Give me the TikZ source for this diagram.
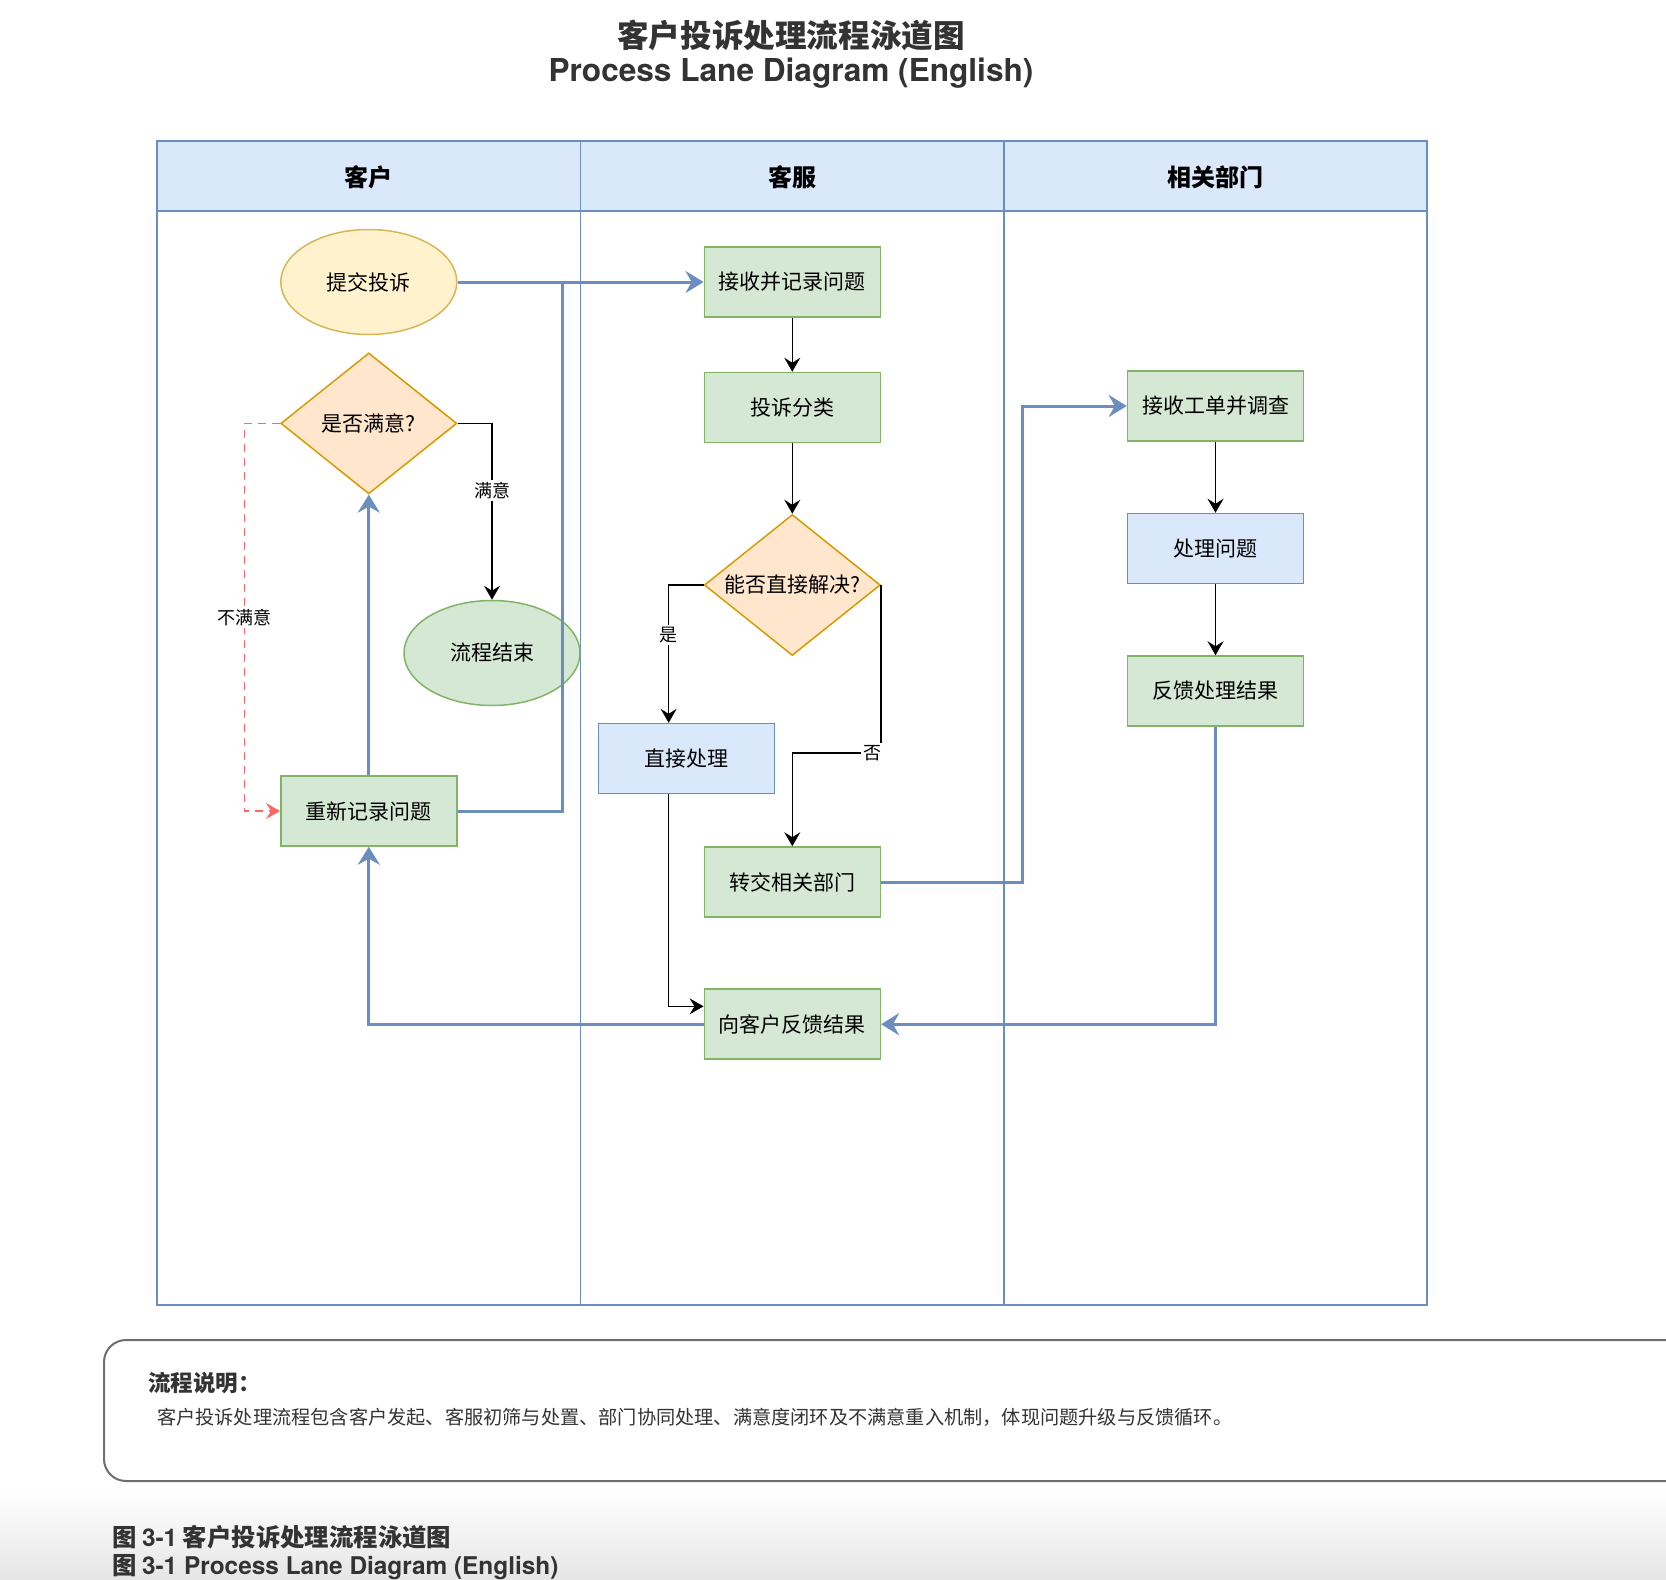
\documentclass[tikz,border=0pt]{standalone}
\usepackage{fontspec}
\setmainfont{Noto Sans CJK SC}
\newfontfamily\latinfont{TeX Gyre Heros}
\usepackage{xcolor}
\usepackage{tikz}
\usetikzlibrary{shapes.geometric,arrows.meta,positioning,calc}
\definecolor{LaneLine}{RGB}{108,142,191}
\definecolor{LaneFill}{RGB}{218,232,252}
\definecolor{GreenLine}{RGB}{130,179,102}
\definecolor{GreenFill}{RGB}{213,232,212}
\definecolor{YellowLine}{RGB}{214,182,86}
\definecolor{YellowFill}{RGB}{255,242,204}
\definecolor{OrangeLine}{RGB}{215,155,0}
\definecolor{OrangeFill}{RGB}{255,230,204}
\definecolor{RedDash}{RGB}{255,102,102}
\definecolor{TextDark}{RGB}{51,51,51}
\definecolor{BoxLine}{RGB}{110,110,110}

\begin{document}
\begin{tikzpicture}[x=0.5pt,y=-0.5pt,
  proc/.style={rectangle,draw=GreenLine,fill=GreenFill,line width=0.75pt,
    minimum width=88pt,minimum height=35pt,font=\fontsize{10.5pt}{12pt}\selectfont},
  act/.style={proc,draw=LaneLine,fill=LaneFill},
  term/.style={ellipse,draw=YellowLine,fill=YellowFill,line width=0.75pt,
    minimum width=88pt,minimum height=52.5pt,font=\fontsize{10.5pt}{12pt}\selectfont},
  dec/.style={diamond,aspect=1.25,draw=OrangeLine,fill=OrangeFill,line width=0.75pt,inner sep=0pt,
    minimum width=88pt,minimum height=70.5pt,font=\fontsize{10.5pt}{12pt}\selectfont},
  lanehead/.style={font=\fontsize{12pt}{14pt}\selectfont\bfseries},
  flow/.style={-{Stealth[length=7pt,width=8pt,inset=2.5pt]},line width=0.75pt},
  link/.style={-{Stealth[length=9pt,width=11pt,inset=3pt]},line width=1.5pt,draw=LaneLine},
  back/.style={-{Stealth[length=7pt,width=8pt,inset=2.5pt]},dash pattern=on 4pt off 3pt,
    draw=RedDash,line width=0.75pt},
  lbl/.style={fill=white,inner sep=1pt,font=\fontsize{9pt}{10pt}\selectfont}
]
\useasboundingbox (0,0) rectangle (1666,1580);
\clip (0,0) rectangle (1666,1580);
\shade[top color=white,bottom color=black!10] (0,1490) rectangle (1666,1580);

\node[font=\fontsize{15.8pt}{18pt}\selectfont\bfseries,text=TextDark] (title) at (791,35) {客户投诉处理流程泳道图};
\node[font=\latinfont\bfseries\fontsize{15.8pt}{18pt}\selectfont,text=TextDark] (subtitle) at (791,73) {Process Lane Diagram (English)};

\fill[LaneFill] (157,141) rectangle (1427,211);
\draw[LaneLine,line width=0.75pt] (157,141) rectangle (1427,1305);
\draw[LaneLine,line width=1pt] (157,211) -- (1427,211);
\draw[LaneLine,line width=0.75pt] (580.6,141) -- (580.6,1305) (1004,141) -- (1004,1305);
\node[lanehead] (laneA) at (368.8,177) {客户};
\node[lanehead] (laneB) at (792.3,177) {客服};
\node[lanehead] (laneC) at (1215.5,177) {相关部门};

\node[term] (submit) at (368.8,282) {提交投诉};
\node[dec] (sat) at (368.8,423.4) {是否满意?};
\node[term,draw=GreenLine,fill=GreenFill] (finish) at (492,653) {流程结束};
\node[proc] (redo) at (368.8,811) {重新记录问题};

\node[proc] (recv) at (792.3,282) {接收并记录问题};
\node[proc,below=27pt of recv] (classify) {投诉分类};
\node[dec,below=35.25pt of classify] (canfix) {能否直接解决?};
\node[act] (direct) at (686.4,758.6) {直接处理};
\node[proc] (transfer) at (792.3,882) {转交相关部门};
\node[proc,below=35.35pt of transfer] (reply) {向客户反馈结果};

\node[proc] (dept) at (1215.5,406) {接收工单并调查};
\node[act,below=35.5pt of dept] (handle) {处理问题};
\node[proc,below=35.5pt of handle] (result) {反馈处理结果};

\coordinate (merge) at (562,282);
\draw[link] (submit) -- (recv);
\draw[link,-] (redo.east) -| (merge);
\draw[link] (redo) -- (sat);
\draw[flow] (sat.east) -| node[lbl,pos=0.69]{满意} (finish.north);
\draw[back] (sat.west) -- ++(-35.8,0) |- node[lbl,pos=0.25]{不满意} (redo.west);
\draw[flow] (recv) -- (classify);
\draw[flow] (classify) -- (canfix);
\draw[flow] (canfix.west) -| node[lbl,pos=0.68]{是} ($(direct.north west)!0.4!(direct.north east)$);
\draw[flow] (canfix.east) -- node[lbl,pos=1,xshift=-4.5pt]{否} ++(0,168) -| (transfer.north);
\draw[flow] ($(direct.south west)!0.4!(direct.south east)$) |- ($(reply.north west)!0.25!(reply.south west)$);
\draw[link] (transfer.east) -- ++(141,0) |- (dept.west);
\draw[flow] (dept) -- (handle);
\draw[flow] (handle) -- (result);
\draw[link] (result.south) |- (reply.east);
\draw[link] (reply.west) -| (redo.south);

\draw[BoxLine,line width=1pt,rounded corners=11pt] (104,1340) rectangle (1760,1481);
\node[anchor=west,font=\fontsize{11.25pt}{13pt}\selectfont\bfseries,text=TextDark] (notehead) at (141,1383) {流程说明：};
\node[anchor=west,font=\fontsize{9.6pt}{11pt}\selectfont,text=TextDark] (notebody) at (150,1417) {客户投诉处理流程包含客户发起、客服初筛与处置、部门协同处理、满意度闭环及不满意重入机制，体现问题升级与反馈循环。};

\node[anchor=west,font=\fontsize{12.2pt}{14pt}\selectfont\bfseries,text=TextDark] (capcn) at (105,1537) {图 {\latinfont\bfseries 3-1} 客户投诉处理流程泳道图};
\node[anchor=west,font=\fontsize{12.2pt}{14pt}\selectfont\bfseries,text=TextDark] (capen) at (105,1567) {图 {\latinfont\bfseries 3-1 Process Lane Diagram (English)}};
\end{tikzpicture}
\end{document}
